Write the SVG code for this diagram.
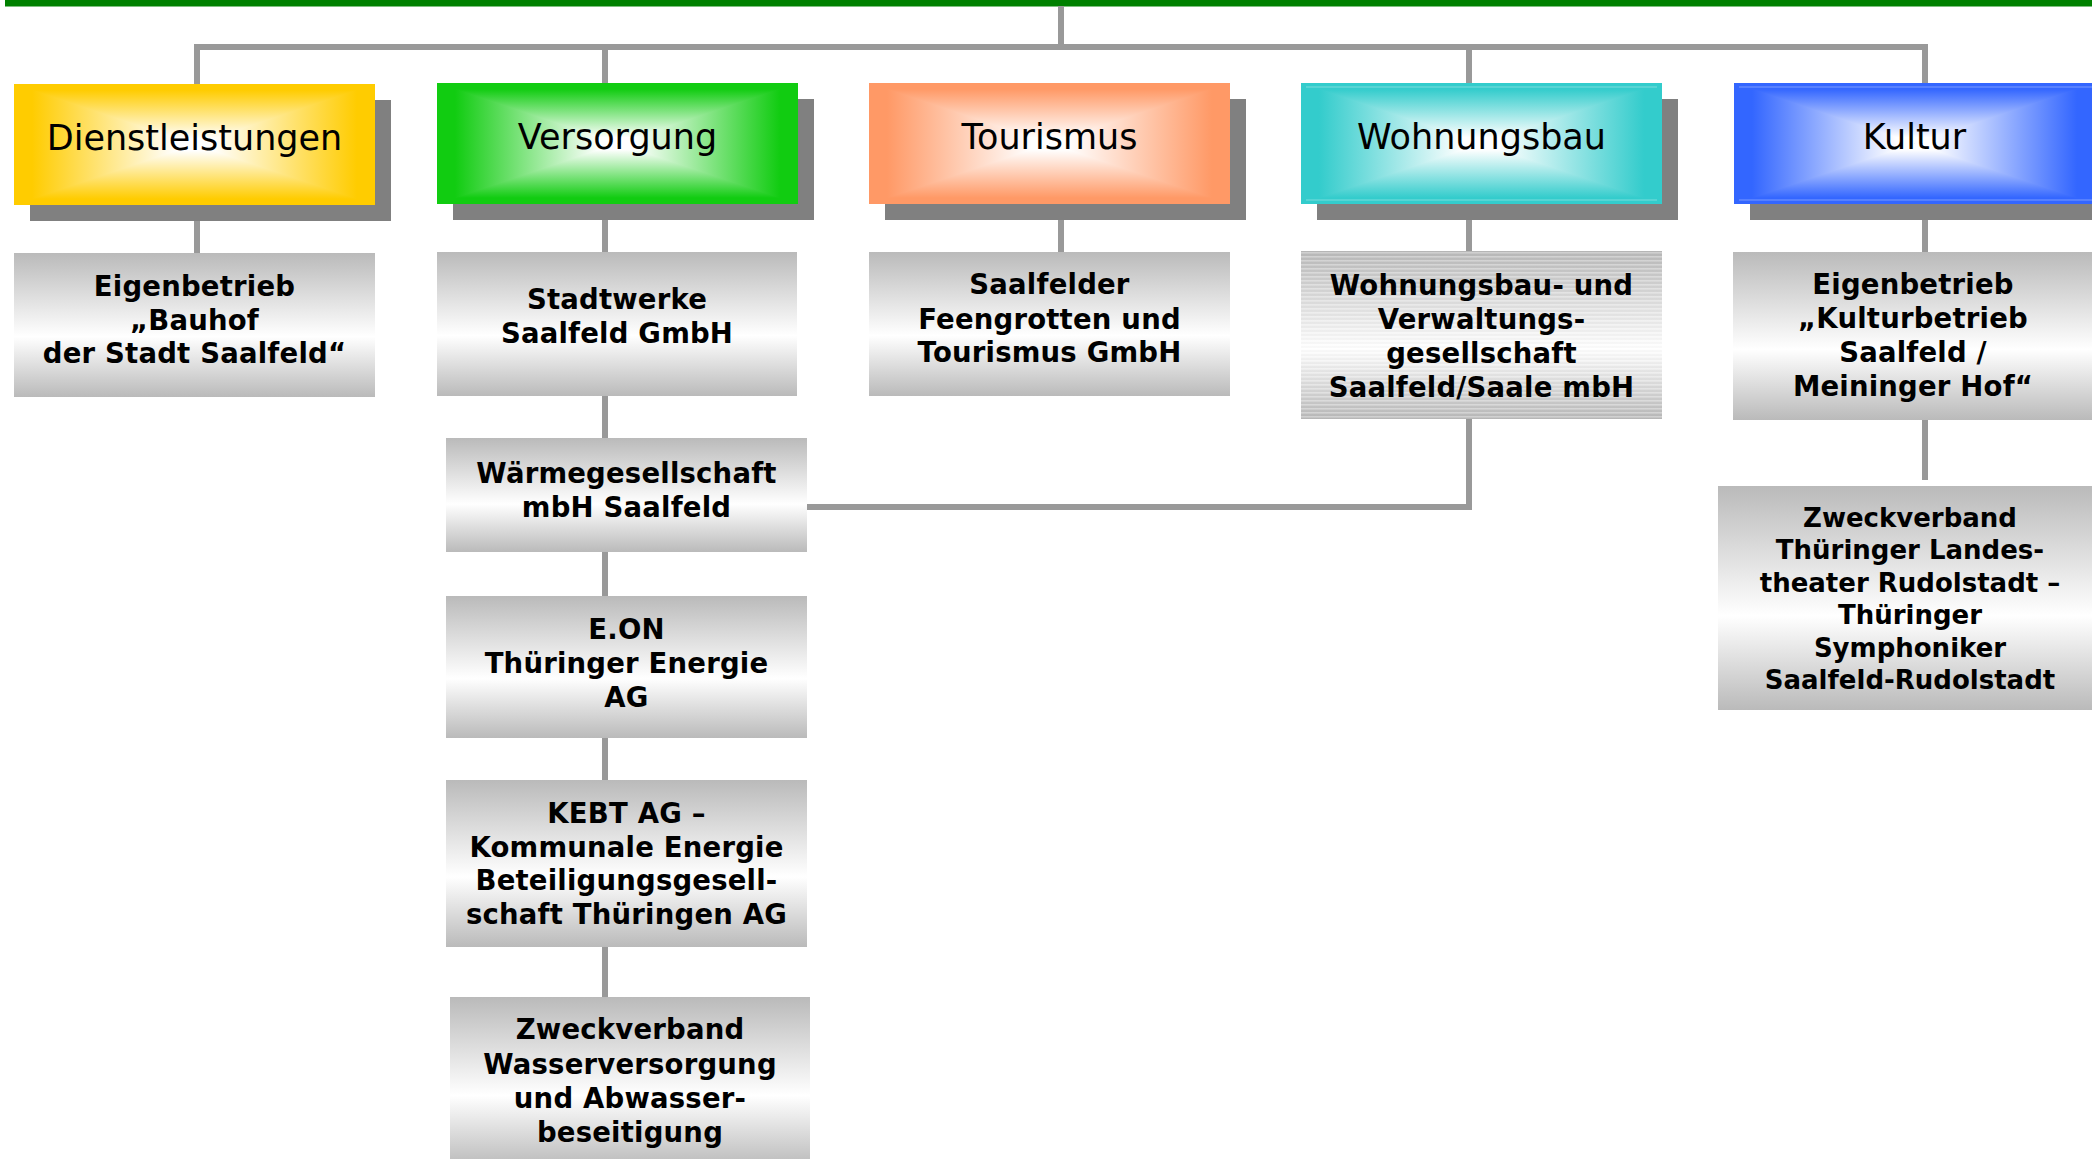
<svg xmlns="http://www.w3.org/2000/svg" width="2092" height="1159" viewBox="0 0 2092 1159">
<style>
.hdr{font-family:"DejaVu Sans","Liberation Sans",sans-serif;font-size:35px;fill:#000;text-anchor:middle}
.sub{font-family:"DejaVu Sans","Liberation Sans",sans-serif;font-size:27.5px;font-weight:bold;fill:#000;text-anchor:middle;letter-spacing:0.2px}
.sub2{font-family:"DejaVu Sans","Liberation Sans",sans-serif;font-size:26px;font-weight:bold;fill:#000;text-anchor:middle}
.shadow{fill:#808080}
.box{fill:url(#subg)}
.conn{stroke:#999999;stroke-width:6;fill:none;stroke-linejoin:miter}
</style>
<defs>
<linearGradient id="subg" x1="0" y1="0" x2="0" y2="1"><stop offset="0" stop-color="#bababa"/><stop offset="0.58" stop-color="#ffffff"/><stop offset="1" stop-color="#bababa"/></linearGradient>
<pattern id="stripes" width="8" height="4" patternUnits="userSpaceOnUse"><rect x="0" y="0" width="8" height="1.5" fill="#ffffff" fill-opacity="0.3"/><rect x="0" y="2.5" width="8" height="1" fill="#000000" fill-opacity="0.04"/></pattern>

<linearGradient id="yl" x1="0" y1="0" x2="1" y2="0"><stop offset="0" stop-color="#FFCC00"/><stop offset="0.1" stop-color="#FFCC00"/><stop offset="0.9" stop-color="#FFFFFF"/></linearGradient>
<linearGradient id="yr" href="#yl" x1="1" y1="0" x2="0" y2="0"/>
<linearGradient id="yt" href="#yl" x1="0" y1="0" x2="0" y2="1"/>
<linearGradient id="yb" href="#yl" x1="0" y1="1" x2="0" y2="0"/>

<linearGradient id="gl" x1="0" y1="0" x2="1" y2="0"><stop offset="0" stop-color="#11CC11"/><stop offset="0.1" stop-color="#11CC11"/><stop offset="0.9" stop-color="#FFFFFF"/></linearGradient>
<linearGradient id="gr" href="#gl" x1="1" y1="0" x2="0" y2="0"/>
<linearGradient id="gt" href="#gl" x1="0" y1="0" x2="0" y2="1"/>
<linearGradient id="gb" href="#gl" x1="0" y1="1" x2="0" y2="0"/>

<linearGradient id="ol" x1="0" y1="0" x2="1" y2="0"><stop offset="0" stop-color="#FF9966"/><stop offset="0.1" stop-color="#FF9966"/><stop offset="0.9" stop-color="#FFFFFF"/></linearGradient>
<linearGradient id="or" href="#ol" x1="1" y1="0" x2="0" y2="0"/>
<linearGradient id="ot" href="#ol" x1="0" y1="0" x2="0" y2="1"/>
<linearGradient id="ob" href="#ol" x1="0" y1="1" x2="0" y2="0"/>

<linearGradient id="tl" x1="0" y1="0" x2="1" y2="0"><stop offset="0" stop-color="#33CCCC"/><stop offset="0.1" stop-color="#33CCCC"/><stop offset="0.9" stop-color="#FFFFFF"/></linearGradient>
<linearGradient id="tr" href="#tl" x1="1" y1="0" x2="0" y2="0"/>
<linearGradient id="tt" href="#tl" x1="0" y1="0" x2="0" y2="1"/>
<linearGradient id="tb" href="#tl" x1="0" y1="1" x2="0" y2="0"/>

<linearGradient id="bl" x1="0" y1="0" x2="1" y2="0"><stop offset="0" stop-color="#3366FF"/><stop offset="0.1" stop-color="#3366FF"/><stop offset="0.9" stop-color="#FFFFFF"/></linearGradient>
<linearGradient id="br" href="#bl" x1="1" y1="0" x2="0" y2="0"/>
<linearGradient id="bt" href="#bl" x1="0" y1="0" x2="0" y2="1"/>
<linearGradient id="bb" href="#bl" x1="0" y1="1" x2="0" y2="0"/>
</defs>

<rect x="5" y="0" width="2087" height="6.5" fill="#008000"/>

<g id="connectors" class="conn">
<path d="M1061 6 V47"/>
<path d="M197 84 V47 H1925 V84"/>
<path d="M605 47 V84"/>
<path d="M1469 47 V84"/>
<path d="M197 220 V254"/>
<path d="M605 220 V253"/>
<path d="M1061 220 V253"/>
<path d="M1469 220 V252"/>
<path d="M1925 220 V253"/>
<path d="M605 396 V439"/>
<path d="M605 552 V597"/>
<path d="M605 738 V781"/>
<path d="M605 947 V998"/>
<path d="M807 507 H1469 V419"/>
<path d="M1925 420 V480"/>
</g>

<g id="dienstleistungen">
<rect class="shadow" x="30" y="100" width="361" height="121"/>
<rect x="14" y="84" width="180.5" height="121" fill="url(#yl)"/>
<rect x="194.5" y="84" width="180.5" height="121" fill="url(#yr)"/>
<polygon points="14,84 375,84 194.5,144.5" fill="url(#yt)"/>
<polygon points="14,205 375,205 194.5,144.5" fill="url(#yb)"/>
<text class="hdr" x="194.5" y="149.5">Dienstleistungen</text>
</g>

<g id="versorgung">
<rect class="shadow" x="453" y="99" width="361" height="121"/>
<rect x="437" y="83" width="180.5" height="121" fill="url(#gl)"/>
<rect x="617.5" y="83" width="180.5" height="121" fill="url(#gr)"/>
<polygon points="437,83 798,83 617.5,143.5" fill="url(#gt)"/>
<polygon points="437,204 798,204 617.5,143.5" fill="url(#gb)"/>
<text class="hdr" x="617.5" y="148.5">Versorgung</text>
</g>

<g id="tourismus">
<rect class="shadow" x="885" y="99" width="361" height="121"/>
<rect x="869" y="83" width="180.5" height="121" fill="url(#ol)"/>
<rect x="1049.5" y="83" width="180.5" height="121" fill="url(#or)"/>
<polygon points="869,83 1230,83 1049.5,143.5" fill="url(#ot)"/>
<polygon points="869,204 1230,204 1049.5,143.5" fill="url(#ob)"/>
<text class="hdr" x="1049.5" y="148.5">Tourismus</text>
</g>

<g id="wohnungsbau">
<rect class="shadow" x="1317" y="99" width="361" height="121"/>
<rect x="1301" y="83" width="180.5" height="121" fill="url(#tl)"/>
<rect x="1481.5" y="83" width="180.5" height="121" fill="url(#tr)"/>
<polygon points="1301,83 1662,83 1481.5,143.5" fill="url(#tt)"/>
<polygon points="1301,204 1662,204 1481.5,143.5" fill="url(#tb)"/>
<line x1="1306" y1="87" x2="1657" y2="87" stroke="#ffffff" stroke-opacity="0.35" stroke-width="1"/>
<line x1="1306" y1="200" x2="1657" y2="200" stroke="#ffffff" stroke-opacity="0.35" stroke-width="1"/>
<text class="hdr" x="1481.5" y="148.5">Wohnungsbau</text>
</g>

<g id="kultur">
<rect class="shadow" x="1750" y="99" width="361" height="121"/>
<rect x="1734" y="83" width="180.5" height="121" fill="url(#bl)"/>
<rect x="1914.5" y="83" width="180.5" height="121" fill="url(#br)"/>
<polygon points="1734,83 2095,83 1914.5,143.5" fill="url(#bt)"/>
<polygon points="1734,204 2095,204 1914.5,143.5" fill="url(#bb)"/>
<line x1="1739" y1="87" x2="2092" y2="87" stroke="#ffffff" stroke-opacity="0.35" stroke-width="1"/>
<line x1="1739" y1="200" x2="2092" y2="200" stroke="#ffffff" stroke-opacity="0.35" stroke-width="1"/>
<text class="hdr" x="1914.5" y="148.5">Kultur</text>
</g>

<g id="bauhof">
<rect class="box" x="14" y="253" width="361" height="144"/>
<text class="sub" x="194.5" y="295.5">Eigenbetrieb</text>
<text class="sub" x="194.5" y="329.5">„Bauhof</text>
<text class="sub" x="194.5" y="362.5">der Stadt Saalfeld“</text>
</g>

<g id="stadtwerke">
<rect class="box" x="437" y="252" width="360" height="144"/>
<text class="sub" x="617" y="308.5">Stadtwerke</text>
<text class="sub" x="617" y="342.5">Saalfeld GmbH</text>
</g>

<g id="feengrotten">
<rect class="box" x="869" y="252" width="361" height="144"/>
<text class="sub" x="1049.5" y="293.5">Saalfelder</text>
<text class="sub" x="1049.5" y="328.5">Feengrotten und</text>
<text class="sub" x="1049.5" y="361.5">Tourismus GmbH</text>
</g>

<g id="wohnungsgesellschaft">
<rect class="box" x="1301" y="251" width="361" height="168"/>
<rect x="1301" y="251" width="361" height="168" fill="url(#stripes)"/>
<text class="sub" x="1481.5" y="294.5">Wohnungsbau- und</text>
<text class="sub" x="1481.5" y="328.5">Verwaltungs-</text>
<text class="sub" x="1481.5" y="362.5">gesellschaft</text>
<text class="sub" x="1481.5" y="396.5">Saalfeld/Saale mbH</text>
</g>

<g id="kulturbetrieb">
<rect class="box" x="1733" y="252" width="362" height="168"/>
<text class="sub" x="1913" y="293.5">Eigenbetrieb</text>
<text class="sub" x="1913" y="327.5">„Kulturbetrieb</text>
<text class="sub" x="1913" y="361.5">Saalfeld /</text>
<text class="sub" x="1913" y="395.5">Meininger Hof“</text>
</g>

<g id="waermegesellschaft">
<rect class="box" x="446" y="438" width="361" height="114"/>
<text class="sub" x="626.5" y="482.5">Wärmegesellschaft</text>
<text class="sub" x="626.5" y="516.5">mbH Saalfeld</text>
</g>

<g id="eon">
<rect class="box" x="446" y="596" width="361" height="142"/>
<text class="sub" x="626.5" y="638.5">E.ON</text>
<text class="sub" x="626.5" y="672.5">Thüringer Energie</text>
<text class="sub" x="626.5" y="706.5">AG</text>
</g>

<g id="kebt">
<rect class="box" x="446" y="780" width="361" height="167"/>
<text class="sub" x="626.5" y="822.5">KEBT AG –</text>
<text class="sub" x="626.5" y="856.5">Kommunale Energie</text>
<text class="sub" x="626.5" y="889.5">Beteiligungsgesell-</text>
<text class="sub" x="626.5" y="923.5">schaft Thüringen AG</text>
</g>

<g id="zweckverband-wasser">
<rect class="box" x="450" y="997" width="360" height="170"/>
<text class="sub" x="630" y="1038.5">Zweckverband</text>
<text class="sub" x="630" y="1073.5">Wasserversorgung</text>
<text class="sub" x="630" y="1107.5">und Abwasser-</text>
<text class="sub" x="630" y="1141.5">beseitigung</text>
</g>

<g id="zweckverband-theater">
<rect class="box" x="1718" y="486" width="384" height="224"/>
<text class="sub2" x="1910" y="527">Zweckverband</text>
<text class="sub2" x="1910" y="559">Thüringer Landes-</text>
<text class="sub2" x="1910" y="592">theater Rudolstadt –</text>
<text class="sub2" x="1910" y="624">Thüringer</text>
<text class="sub2" x="1910" y="657">Symphoniker</text>
<text class="sub2" x="1910" y="689">Saalfeld-Rudolstadt</text>
</g>
</svg>
